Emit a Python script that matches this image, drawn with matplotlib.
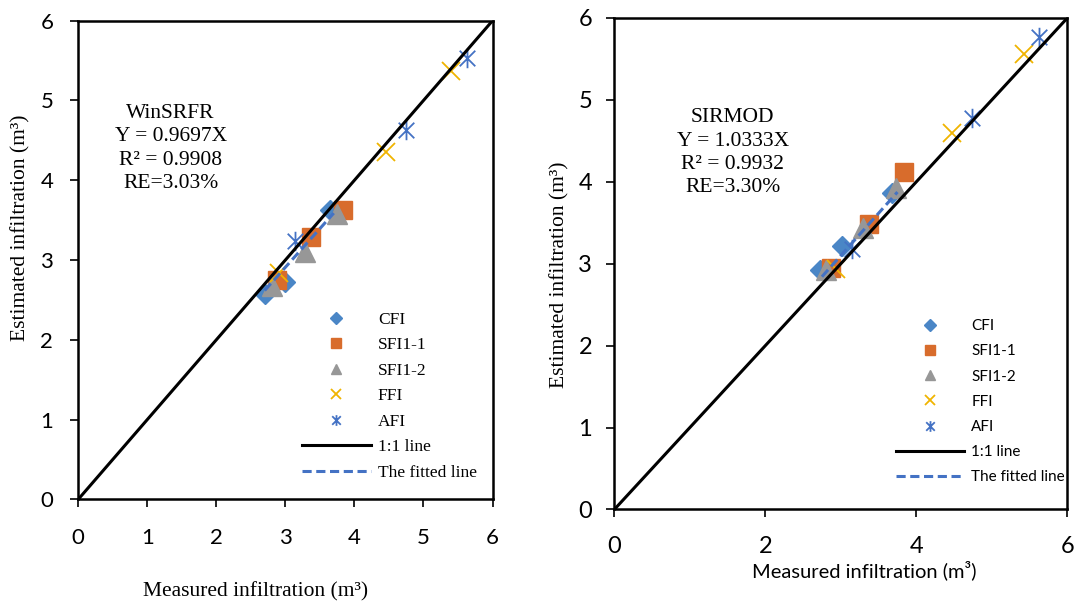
import numpy as np
import matplotlib
matplotlib.use("Agg")
from matplotlib import pyplot as plt
from matplotlib.path import Path

# values (measured, estimated) for each treatment
# WinSRFR panel
win_cfi_x = [2.71, 3.00, 3.65]
win_cfi_y = [2.57, 2.72, 3.63]
win_sfi11_x = [2.88, 3.37, 3.83]
win_sfi11_y = [2.75, 3.29, 3.63]
win_sfi12_x = [2.81, 3.28, 3.74]
win_sfi12_y = [2.67, 3.10, 3.58]
win_ffi_x = [2.91, 4.46, 5.40]
win_ffi_y = [2.84, 4.36, 5.37]
win_afi_x = [3.14, 4.74, 5.63]
win_afi_y = [3.24, 4.63, 5.53]
win_slope = 0.9697
win_fit_x = [2.70, 3.70]

# SIRMOD panel
sir_cfi_x = [2.72, 3.01, 3.68]
sir_cfi_y = [2.92, 3.22, 3.86]
sir_sfi11_x = [2.87, 3.37, 3.84]
sir_sfi11_y = [2.95, 3.48, 4.12]
sir_sfi12_x = [2.80, 3.30, 3.73]
sir_sfi12_y = [2.92, 3.43, 3.93]
sir_ffi_x = [2.93, 4.47, 5.42]
sir_ffi_y = [2.94, 4.59, 5.56]
sir_afi_x = [3.15, 4.74, 5.63]
sir_afi_y = [3.18, 4.78, 5.77]
sir_slope = 1.0333
sir_fit_x = [2.75, 3.75]

one_to_one = [0, 6]

win_text = "WinSRFR\nY = 0.9697X\nR² = 0.9908\nRE=3.03%"
sir_text = "SIRMOD\nY = 1.0333X\nR² = 0.9932\nRE=3.30%"

SERIF = "Liberation Serif"
SANS = "Lato"

# excel-like star: an X with a vertical bar
star = Path([(-1, -1), (1, 1), (-1, 1), (1, -1), (0, -1.25), (0, 1.25)],
            [Path.MOVETO, Path.LINETO, Path.MOVETO, Path.LINETO, Path.MOVETO, Path.LINETO])


def draw_panel(ax, data, slope, fit_x, xticks, tick_size, xpad, ypad):
    (cx, cy), (s1x, s1y), (s2x, s2y), (fx, fy), (ax_, ay) = data
    ax.plot(cx, cy, ls="none", marker="D", ms=10.5, color="#4a86c6", label="CFI")
    ax.plot(s1x, s1y, ls="none", marker="s", ms=13.5, color="#d86c2c", label="SFI1-1")
    ax.plot(s2x, s2y, ls="none", marker="^", ms=14, color="#979797", label="SFI1-2")
    ax.plot(fx, fy, ls="none", marker="x", ms=13, mew=1.3, color="#f0b400", label="FFI")
    ax.plot(ax_, ay, ls="none", marker=star, ms=14, mew=1.3, color="#4472c4",
            mfc="none", label="AFI")
    ax.plot(one_to_one, one_to_one, color="black", lw=2.2, label="1:1 line")
    fx_arr = np.array(fit_x)
    ax.plot(fx_arr, slope * fx_arr, color="#4472c4", lw=2.2, ls=(0, (3, 1.5)),
            label="The fitted line")

    ax.set_xlim(0, 6)
    ax.set_ylim(0, 6)
    ax.set_xticks(xticks)
    ax.set_yticks(range(7))
    for sp in ax.spines.values():
        sp.set_linewidth(1.8)
    ax.tick_params(direction="out", length=6, width=1.2, labelsize=tick_size)
    ax.tick_params(axis="x", pad=xpad)
    ax.tick_params(axis="y", pad=ypad)
    for lab in ax.get_xticklabels() + ax.get_yticklabels():
        lab.set_fontfamily(SANS)


fig = plt.figure(figsize=(10.74, 6.03), dpi=100)

ax1 = fig.add_axes([0.0729, 0.1720, 0.3857, 0.7937])
draw_panel(ax1,
           [(win_cfi_x, win_cfi_y), (win_sfi11_x, win_sfi11_y), (win_sfi12_x, win_sfi12_y),
            (win_ffi_x, win_ffi_y), (win_afi_x, win_afi_y)],
           win_slope, win_fit_x, range(7), 16, 14.5, 12)
ax1.set_ylabel("Estimated infiltration (m³)", family=SERIF, fontsize=15.5)
ax1.yaxis.set_label_coords(-0.115, 0.567)
ax1.set_xlabel("Measured infiltration (m³)", family=SERIF, fontsize=15.5)
ax1.xaxis.set_label_coords(0.427, -0.174)
ax1.text(0.223, 0.733, win_text, transform=ax1.transAxes, ha="center", va="center",
         multialignment="center", family=SERIF, fontsize=15.5, linespacing=1.3)
ax1.legend(loc="upper left", bbox_to_anchor=(0.540, 0.392), frameon=False,
           borderpad=0, borderaxespad=0, markerscale=0.55, handlelength=3.97,
           handletextpad=0.4, labelspacing=0.54, prop={"family": SERIF, "size": 12.5})

ax2 = fig.add_axes([0.5720, 0.1551, 0.4218, 0.8151])
draw_panel(ax2,
           [(sir_cfi_x, sir_cfi_y), (sir_sfi11_x, sir_sfi11_y), (sir_sfi12_x, sir_sfi12_y),
            (sir_ffi_x, sir_ffi_y), (sir_afi_x, sir_afi_y)],
           sir_slope, sir_fit_x, [0, 2, 4, 6], 17, 13, 10)
ax2.set_ylabel("Estimated infiltration (m³)", family=SERIF, fontsize=15.5)
ax2.yaxis.set_label_coords(-0.100, 0.478)
ax2.set_xlabel("Measured infiltration (m³)", family=SANS, fontsize=14.5)
ax2.xaxis.set_label_coords(0.552, -0.103)
ax2.text(0.261, 0.726, sir_text, transform=ax2.transAxes, ha="center", va="center",
         multialignment="center", family=SERIF, fontsize=15.5, linespacing=1.3)
ax2.legend(loc="upper left", bbox_to_anchor=(0.621, 0.387), frameon=False,
           borderpad=0, borderaxespad=0, markerscale=0.55, handlelength=4.45,
           handletextpad=0.5, labelspacing=0.73, prop={"family": SANS, "size": 11})

fig.savefig("out.png", dpi=100)
